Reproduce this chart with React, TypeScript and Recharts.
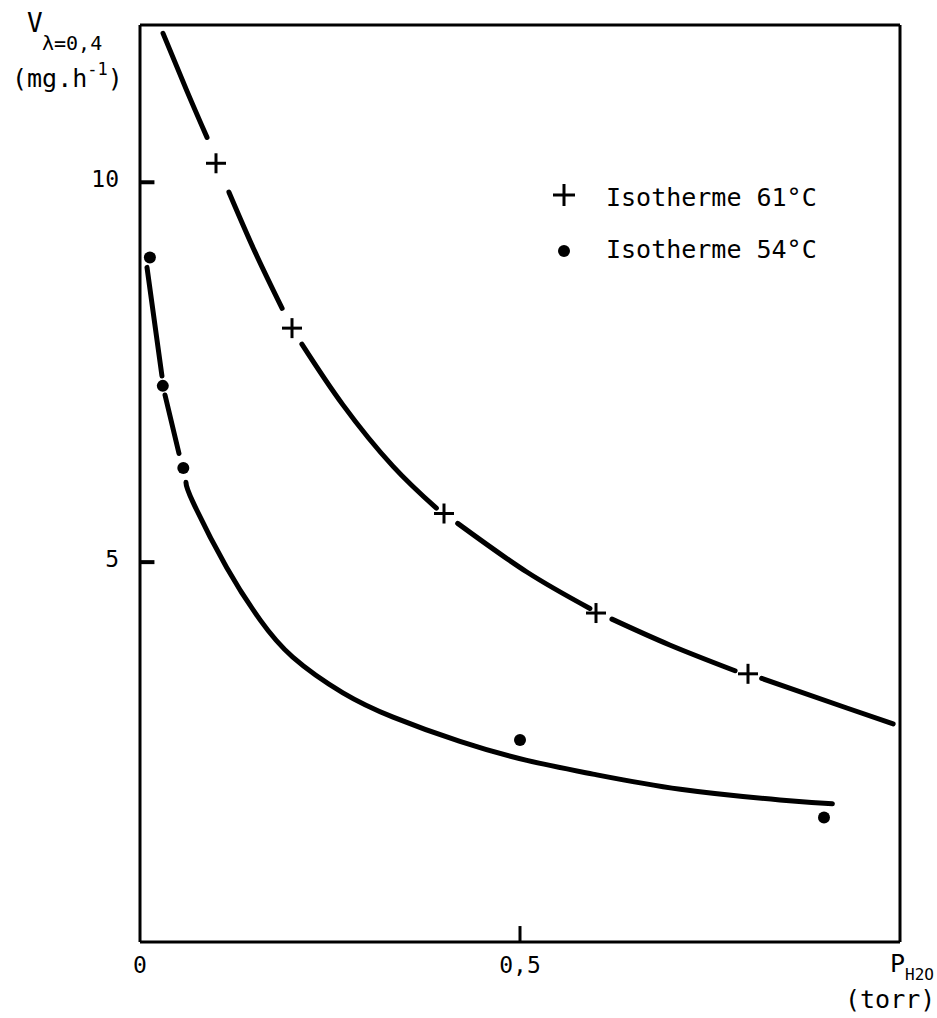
import React from 'react';
import {
  ComposedChart,
  Line,
  ReferenceLine,
  Scatter,
  XAxis,
  YAxis,
} from 'recharts';

// isotherme 61°C : mesures (croix)
const crossP = [0.1, 0.2, 0.4, 0.6, 0.8];
const crossV = [10.25, 8.08, 5.64, 4.33, 3.53];

// isotherme 54°C : mesures (points)
const dotP = [0.013, 0.03, 0.057, 0.5, 0.9];
const dotV = [9.01, 7.32, 6.24, 2.66, 1.64];

// courbes tracees a la main ; null = trait interrompu autour d'un point de mesure
const curve61P = [
  0.0303, 0.0618, 0.0882, 0.101,
  0.117, 0.151, 0.187, 0.2,
  0.213, 0.267, 0.333, 0.39, 0.401,
  0.418, 0.509, 0.592, 0.6,
  0.621, 0.697, 0.783, 0.8,
  0.818, 0.93, 0.991,
];
const curve61V = [
  11.96, 11.2, 10.59, null,
  9.87, 9.09, 8.34, null,
  7.87, 7.07, 6.26, 5.71, null,
  5.51, 4.87, 4.39, null,
  4.25, 3.91, 3.57, null,
  3.47, 3.08, 2.87,
];

const curve54P = [
  0.0092, 0.0289, 0.03,
  0.0329, 0.0513, 0.057,
  0.0605, 0.0697, 0.114, 0.158, 0.201, 0.267, 0.333, 0.421, 0.509, 0.596, 0.711, 0.842, 0.911,
];
const curve54V = [
  8.88, 7.45, null,
  7.2, 6.43, null,
  6.05, 5.79, 4.93, 4.24, 3.75, 3.28, 2.96, 2.64, 2.39, 2.21, 2.01, 1.87, 1.82,
];

const xTicks = [0, 0.5];
const yTicks = [5, 10];

const zip = (xs: number[], ys: (number | null)[]) => xs.map((x, i) => ({ x, y: ys[i] }));

const crosses = zip(crossP, crossV);
const dots = zip(dotP, dotV);
const curve61 = zip(curve61P, curve61V);
const curve54 = zip(curve54P, curve54V);

const FONT = '"DejaVu Sans Mono", monospace';
const fmt = (v: number) => String(v).replace('.', ',');

const CrossShape = (props: any) => {
  const { cx, cy } = props;
  if (cx == null || cy == null) return null;
  return (
    <g>
      <line x1={cx - 10} x2={cx + 10} y1={cy} y2={cy} stroke='#000' strokeWidth={3} />
      <line x1={cx} x2={cx} y1={cy - 10} y2={cy + 10} stroke='#000' strokeWidth={3} />
    </g>
  );
};

const DotShape = (props: any) => {
  const { cx, cy } = props;
  if (cx == null || cy == null) return null;
  return <circle cx={cx} cy={cy} r={6} fill='#000' />;
};

const YTick = (props: any) => {
  const { y, payload } = props;
  return (
    <text x={119} y={y + 5} textAnchor='end' fontFamily={FONT} fontSize={23} fill='#000'>
      {fmt(payload.value)}
    </text>
  );
};

const XTick = (props: any) => {
  const { x, payload } = props;
  return (
    <text x={x} y={973} textAnchor='middle' fontFamily={FONT} fontSize={23} fill='#000'>
      {fmt(payload.value)}
    </text>
  );
};

const Labels = () => (
  <svg
    width={937}
    height={1018}
    style={{ position: 'absolute', left: 0, top: 0, pointerEvents: 'none' }}
  >
    <g fontFamily={FONT} fill='#000'>
      <text x={27} y={32} fontSize={26}>V</text>
      <text x={42} y={50} fontSize={20}>λ=0,4</text>
      <text x={12} y={87} fontSize={25}>
        (mg.h
        <tspan dy={-12} fontSize={17}>-1</tspan>
        <tspan dy={12}>)</tspan>
      </text>

      <text x={890} y={972} fontSize={25}>
        P<tspan dy={8} fontSize={16}>H2O</tspan>
      </text>
      <text x={845} y={1008} fontSize={25}>(torr)</text>

      <line x1={553} x2={575} y1={195} y2={195} stroke='#000' strokeWidth={3} />
      <line x1={564} x2={564} y1={184} y2={206} stroke='#000' strokeWidth={3} />
      <text x={606} y={206} fontSize={25}>Isotherme 61°C</text>
      <circle cx={564} cy={251} r={6} fill='#000' />
      <text x={606} y={258} fontSize={25}>Isotherme 54°C</text>
    </g>
  </svg>
);

export default function App() {
  return (
    <div style={{ position: 'absolute', left: 0, top: 0, width: 937, height: 1018, background: '#fff' }}>
      <ComposedChart
        width={937}
        height={1018}
        margin={{ top: 20, right: 32, bottom: 36, left: 80 }}
      >
        <XAxis
          dataKey='x'
          type='number'
          domain={[0, 1]}
          ticks={xTicks}
          height={40}
          axisLine={{ stroke: '#000', strokeWidth: 3 }}
          tickLine={false}
          tick={<XTick />}
          allowDataOverflow
        />
        <XAxis
          xAxisId='top'
          orientation='top'
          type='number'
          domain={[0, 1]}
          height={5}
          tick={false}
          tickLine={false}
          axisLine={{ stroke: '#000', strokeWidth: 3 }}
        />
        <YAxis
          dataKey='y'
          type='number'
          domain={[0, 12.07]}
          ticks={yTicks}
          width={60}
          axisLine={{ stroke: '#000', strokeWidth: 3 }}
          tickLine={false}
          tick={<YTick />}
          allowDataOverflow
        />
        <YAxis
          yAxisId='right'
          orientation='right'
          type='number'
          domain={[0, 12.07]}
          width={5}
          tick={false}
          tickLine={false}
          axisLine={{ stroke: '#000', strokeWidth: 3 }}
        />
        {/* graduations tournees vers l'interieur */}
        {yTicks.map((v) => (
          <ReferenceLine
            key={'y' + v}
            segment={[{ x: 0, y: v }, { x: 0.019, y: v }]}
            stroke='#000'
            strokeWidth={4}
          />
        ))}
        <ReferenceLine
          segment={[{ x: 0.5, y: 0 }, { x: 0.5, y: 0.21 }]}
          stroke='#000'
          strokeWidth={3}
        />
        <Line
          data={curve61}
          dataKey='y'
          type='natural'
          stroke='#000'
          strokeWidth={5}
          strokeLinecap='round'
          dot={false}
          activeDot={false}
          isAnimationActive={false}
        />
        <Line
          data={curve54}
          dataKey='y'
          type='natural'
          stroke='#000'
          strokeWidth={5}
          strokeLinecap='round'
          dot={false}
          activeDot={false}
          isAnimationActive={false}
        />
        <Scatter data={crosses} dataKey='y' shape={<CrossShape />} isAnimationActive={false} />
        <Scatter data={dots} dataKey='y' shape={<DotShape />} isAnimationActive={false} />
      </ComposedChart>
      <Labels />
    </div>
  );
}
